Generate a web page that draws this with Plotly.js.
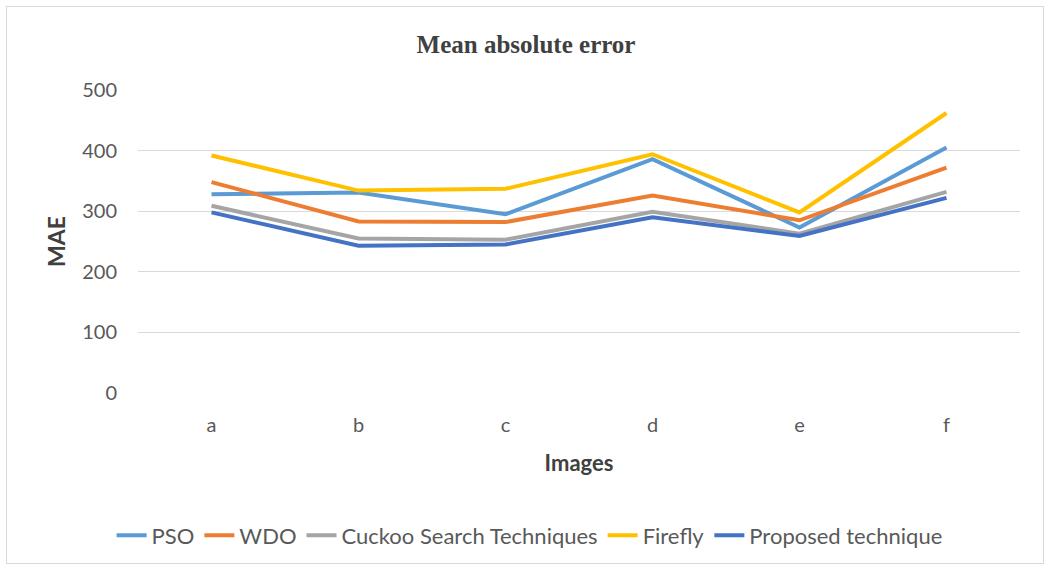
<!DOCTYPE html>
<html>
<head>
<meta charset="utf-8">
<script src="https://cdn.plot.ly/plotly-3.0.1.min.js"></script>
<style>
html,body{margin:0;padding:0;background:#fff;}
#wrap{position:absolute;left:0;top:0;width:1052px;height:571px;}
#frame{position:absolute;left:6px;top:6px;width:1038px;height:558px;border:1px solid #d9d9d9;box-sizing:border-box;pointer-events:none;}
#chart{position:absolute;left:0;top:0;width:1052px;height:571px;}
</style>
</head>
<body>
<div id="wrap"><div id="chart"></div><div id="frame"></div></div>
<script>
const categories = ['a','b','c','d','e','f'];
const pso      = [328, 331, 295, 386, 273, 405];
const wdo      = [348, 283, 282, 326, 285, 372];
const cuckoo   = [309, 255, 253, 299, 263, 332];
const firefly  = [392, 334, 337, 394, 298, 462];
const proposed = [298, 243, 245, 290, 259, 322];
const seriesNames = ['PSO','WDO','Cuckoo Search Techniques','Firefly','Proposed technique'];
const seriesData = [pso, wdo, cuckoo, firefly, proposed];
const colors = ['#5B9BD5','#ED7D31','#A5A5A5','#FFC000','#4472C4'];
const yTicks = [0,100,200,300,400,500];

const font = "Lato, Open Sans, sans-serif";
const traces = seriesData.map((d,i)=>({
  x: categories, y: d, name: seriesNames[i], type:'scatter', mode:'lines',
  line:{color:colors[i], width:4}
}));

const layout = {
  width:1052, height:571,
  margin:{l:138, r:32, t:90, b:178},
  paper_bgcolor:'#fff', plot_bgcolor:'#fff',
  title:{text:'<b>Mean absolute error</b>', x:0.5, xref:'container', xanchor:'center', y:1-44/571, yref:'container', yanchor:'middle',
         font:{family:'Liberation Serif, serif', size:25, color:'#404040'}},
  xaxis:{type:'category', range:[-0.5,5.5], showgrid:false, zeroline:false, showline:false, ticks:'',
         tickfont:{family:font, size:20, color:'#595959'}, ticklabelstandoff:18,
         title:{text:'<b>Images</b>', font:{family:font, size:22, color:'#404040'}, standoff:20}},
  yaxis:{range:[0,500], tickvals:yTicks, showgrid:true, gridcolor:'#d9d9d9', gridwidth:1, zeroline:false, showline:false, ticks:'',
         tickfont:{family:font, size:20, color:'#595959'}, ticklabelstandoff:20,
         title:{text:'<b>MAE</b>', font:{family:font, size:23, color:'#404040'}, standoff:10}},
  showlegend:true,
  legend:{orientation:'h', x:0.444, xanchor:'center', y:-0.47, yanchor:'middle',
          font:{family:font, size:22, color:'#595959'}, traceorder:'normal'},
};
Plotly.newPlot('chart', traces, layout, {displayModeBar:false, staticPlot:true});
</script>
</body>
</html>
